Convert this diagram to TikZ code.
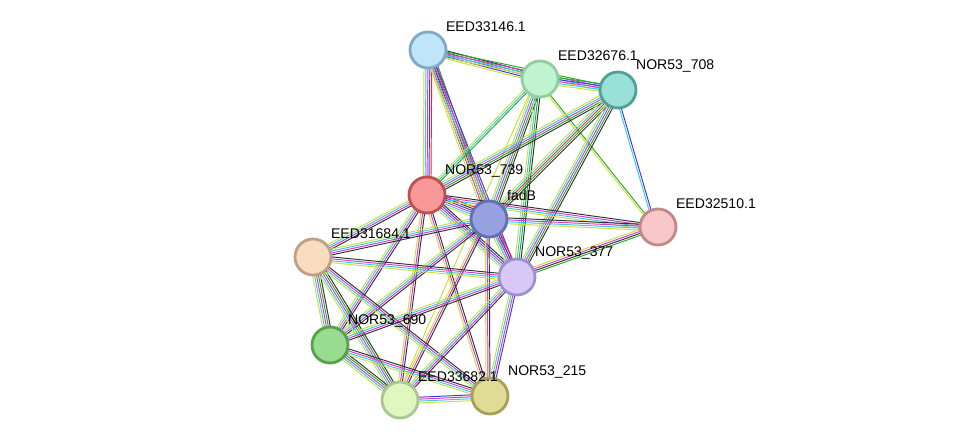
\documentclass[tikz,border=0pt]{standalone}
\usepackage{fontspec}
\setmainfont{Liberation Sans}
\usetikzlibrary{calc}

\definecolor{cYel}{RGB}{200,224,64}
\definecolor{cCya}{RGB}{60,200,230}
\definecolor{cMag}{RGB}{210,60,210}
\definecolor{cBlu}{RGB}{60,60,220}
\definecolor{cGrn}{RGB}{40,170,40}
\definecolor{cBlk}{RGB}{50,50,50}
\definecolor{cRed}{RGB}{230,40,40}

% one string of coloured lines between two proteins
\newcommand{\linkit}[3]{%
  \foreach \col [count=\k] in {#3} {
    \draw[\col,line width=0.55pt]
      ($(#1)!{(\k-1)*1.1pt-2.2pt}!90:(#2)$) -- ($(#2)!{(\k-1)*1.1pt-2.2pt}!-90:(#1)$);
  }}

\newlength{\pxu}
\setlength{\pxu}{0.02cm}
\tikzset{
  prot/.style={circle,minimum size=36\pxu,line width=1.6pt,inner sep=0pt},
  lbl/.style={anchor=south west,inner sep=1pt,font=\fontsize{8}{9}\selectfont}
}

\begin{document}
\begin{tikzpicture}[x=0.02cm,y=-0.02cm]
\useasboundingbox (0,0) rectangle (976,445);

% proteins
\coordinate (a) at (428,50);
\coordinate (b) at (540,79);
\coordinate (c) at (618,90);
\coordinate (d) at (427,195);
\coordinate (e) at (489,219);
\coordinate (f) at (658,227);
\coordinate (g) at (313,257);
\coordinate (h) at (517,277);
\coordinate (i) at (330,345);
\coordinate (j) at (400,400);
\coordinate (k) at (490,396);

% links
\linkit{a}{b}{cYel,cBlu,cMag,cGrn,cBlk}
\linkit{a}{c}{cYel,cCya,cMag,cGrn}
\linkit{a}{d}{cYel,cCya,cMag,cBlu,cRed}
\linkit{a}{e}{cYel,cMag,cBlk,cRed,cGrn}
\linkit{a}{h}{cYel,cCya,cMag,cBlu}
\linkit{b}{c}{cYel,cCya,cMag,cBlu,cGrn}
\linkit{b}{d}{cYel,cCya,cGrn}
\linkit{b}{e}{cYel,cCya,cMag,cGrn,cBlk}
\linkit{b}{h}{cYel,cCya,cGrn,cBlk}
\linkit{b}{f}{cYel,cGrn}
\linkit{b}{j}{cYel}
\linkit{c}{d}{cYel,cCya,cMag,cGrn,cBlk}
\linkit{c}{e}{cYel,cCya,cRed,cGrn,cBlk}
\linkit{c}{h}{cYel,cCya,cMag,cGrn,cBlk}
\linkit{c}{f}{cCya,cBlu}
\linkit{d}{e}{cYel,cCya,cMag,cBlu,cBlk,cRed}
\linkit{d}{f}{cYel,cCya,cMag,cBlk}
\linkit{d}{g}{cYel,cCya,cMag,cBlk}
\linkit{d}{h}{cYel,cCya,cMag,cBlu,cBlk}
\linkit{d}{i}{cYel,cCya,cMag,cBlk}
\linkit{d}{j}{cYel,cMag,cBlk}
\linkit{d}{k}{cYel,cMag,cBlk}
\linkit{e}{f}{cYel,cCya,cMag,cBlk}
\linkit{e}{g}{cYel,cCya,cMag,cBlk}
\linkit{e}{h}{cYel,cCya,cMag,cBlu,cRed}
\linkit{e}{i}{cYel,cCya,cMag,cBlk}
\linkit{e}{j}{cYel,cMag,cBlk}
\linkit{e}{k}{cYel,cMag,cBlk}
\linkit{f}{h}{cYel,cMag,cBlk,cGrn}
\linkit{g}{h}{cYel,cCya,cMag,cBlk}
\linkit{g}{i}{cYel,cCya,cMag,cGrn,cBlk}
\linkit{g}{j}{cYel,cCya,cMag,cGrn,cBlk}
\linkit{g}{k}{cYel,cCya,cMag,cBlk}
\linkit{h}{i}{cYel,cCya,cMag,cBlk}
\linkit{h}{j}{cYel,cCya,cMag,cBlk}
\linkit{h}{k}{cYel,cCya,cMag,cBlu}
\linkit{i}{j}{cYel,cCya,cMag,cGrn,cBlk}
\linkit{i}{k}{cYel,cCya,cMag,cBlk}
\linkit{j}{k}{cYel,cCya,cMag,cBlu}

% nodes on top
\node[prot,fill={rgb,255:red,192;green,228;blue,248},draw={rgb,255:red,128;green,168;blue,200}] (na) at (a) {};
\node[prot,fill={rgb,255:red,192;green,244;blue,208},draw={rgb,255:red,144;green,208;blue,160}] (nb) at (b) {};
\node[prot,fill={rgb,255:red,152;green,224;blue,216},draw={rgb,255:red,80;green,160;blue,152}] (nc) at (c) {};
\node[prot,fill={rgb,255:red,248;green,152;blue,152},draw={rgb,255:red,192;green,80;blue,80}] (nd) at (d) {};
\node[prot,fill={rgb,255:red,152;green,160;blue,224},draw={rgb,255:red,96;green,112;blue,176}] (ne) at (e) {};
\node[prot,fill={rgb,255:red,248;green,200;blue,200},draw={rgb,255:red,192;green,136;blue,136}] (nf) at (f) {};
\node[prot,fill={rgb,255:red,248;green,220;blue,192},draw={rgb,255:red,192;green,160;blue,128}] (ng) at (g) {};
\node[prot,fill={rgb,255:red,216;green,200;blue,248},draw={rgb,255:red,160;green,144;blue,208}] (nh) at (h) {};
\node[prot,fill={rgb,255:red,152;green,220;blue,144},draw={rgb,255:red,88;green,160;blue,80}] (ni) at (i) {};
\node[prot,fill={rgb,255:red,224;green,248;blue,192},draw={rgb,255:red,168;green,200;blue,144}] (nj) at (j) {};
\node[prot,fill={rgb,255:red,224;green,220;blue,152},draw={rgb,255:red,168;green,160;blue,88}] (nk) at (k) {};

% labels
\node[lbl] (la) at ($(a)+(16,-16)$) {EED33146.1};
\node[lbl] (lb) at ($(b)+(16,-16)$) {EED32676.1};
\node[lbl] (lc) at ($(c)+(16,-16)$) {NOR53\_708};
\node[lbl] (ld) at ($(d)+(16,-16)$) {NOR53\_739};
\node[lbl] (le) at ($(e)+(16,-16)$) {fadB};
\node[lbl] (lf) at ($(f)+(16,-16)$) {EED32510.1};
\node[lbl] (lg) at ($(g)+(16,-16)$) {EED31684.1};
\node[lbl] (lh) at ($(h)+(16,-16)$) {NOR53\_377};
\node[lbl] (li) at ($(i)+(16,-16)$) {NOR53\_690};
\node[lbl] (lj) at ($(j)+(16,-16)$) {EED33682.1};
\node[lbl] (lk) at ($(k)+(16,-16)$) {NOR53\_215};
\end{tikzpicture}
\end{document}
